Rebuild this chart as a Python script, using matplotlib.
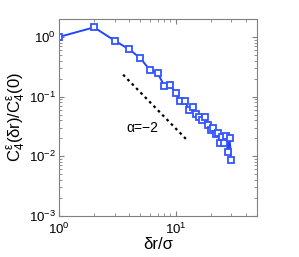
import matplotlib
matplotlib.use("Agg")
import matplotlib.pyplot as plt
import numpy as np
from matplotlib.ticker import LogLocator, LogFormatterMathtext, NullFormatter

plt.rcParams['font.family'] = ['Liberation Sans', 'DejaVu Sans']
plt.rcParams['mathtext.fontset'] = 'custom'
plt.rcParams['mathtext.rm'] = 'Liberation Sans'
plt.rcParams['mathtext.it'] = 'Liberation Sans'

# correlation data
dr = [1, 2, 3, 4, 5, 6, 7, 8, 9, 10,
      11, 12, 13, 14, 15, 16, 17, 18, 19, 20,
      21, 22, 23, 24, 25, 26, 27, 28, 29, 30]
c4 = [1.0, 1.45, 0.87, 0.62, 0.44, 0.28, 0.25, 0.152, 0.155, 0.115,
      0.083, 0.085, 0.060, 0.066, 0.052, 0.046, 0.041, 0.045, 0.034, 0.028,
      0.030, 0.024, 0.025, 0.017, 0.021, 0.017, 0.022, 0.012, 0.020, 0.0085]

# power law guide, slope -2
guide_x = [3.55, 12.8]
guide_y = [0.233, 0.233 * (3.55 / 12.8) ** 2]

fig = plt.figure(figsize=(2.99, 2.57), dpi=100)
ax = fig.add_axes([0.197, 0.160, 0.663, 0.766])

ax.loglog(dr, c4, '-s', color='#2244ff', lw=1.4, markersize=3.8,
          markerfacecolor='white', markeredgecolor='#3355ff', markeredgewidth=1.3)
ax.loglog(guide_x, guide_y, color='black', lw=1.6, linestyle=(0, (1.2, 1.6)))
ax.text(5.2, 0.030, 'α=−2', fontsize=10, ha='center', va='center')

ax.set_xlim(1, 50)
ax.set_ylim(1e-3, 2)
ax.xaxis.set_major_locator(LogLocator(base=10))
ax.yaxis.set_major_locator(LogLocator(base=10))
ax.xaxis.set_major_formatter(LogFormatterMathtext())
ax.yaxis.set_major_formatter(LogFormatterMathtext())
ax.xaxis.set_minor_formatter(NullFormatter())
ax.yaxis.set_minor_formatter(NullFormatter())

for s in ax.spines.values():
    s.set_color('#808080')
    s.set_linewidth(0.8)
ax.tick_params(which='both', direction='in', top=True, right=True, color='#808080',
               labelsize=9.5, pad=2)
ax.tick_params(axis='x', pad=4)
ax.tick_params(which='major', length=3.5)
ax.tick_params(which='minor', length=2)

ax.set_xlabel('δr/σ', fontsize=12, labelpad=0)
ax.set_ylabel(r'C$_4^{ε}$(δr)/C$_4^{ε}$(0)', fontsize=12, labelpad=1)

fig.savefig('out.png', dpi=100)
